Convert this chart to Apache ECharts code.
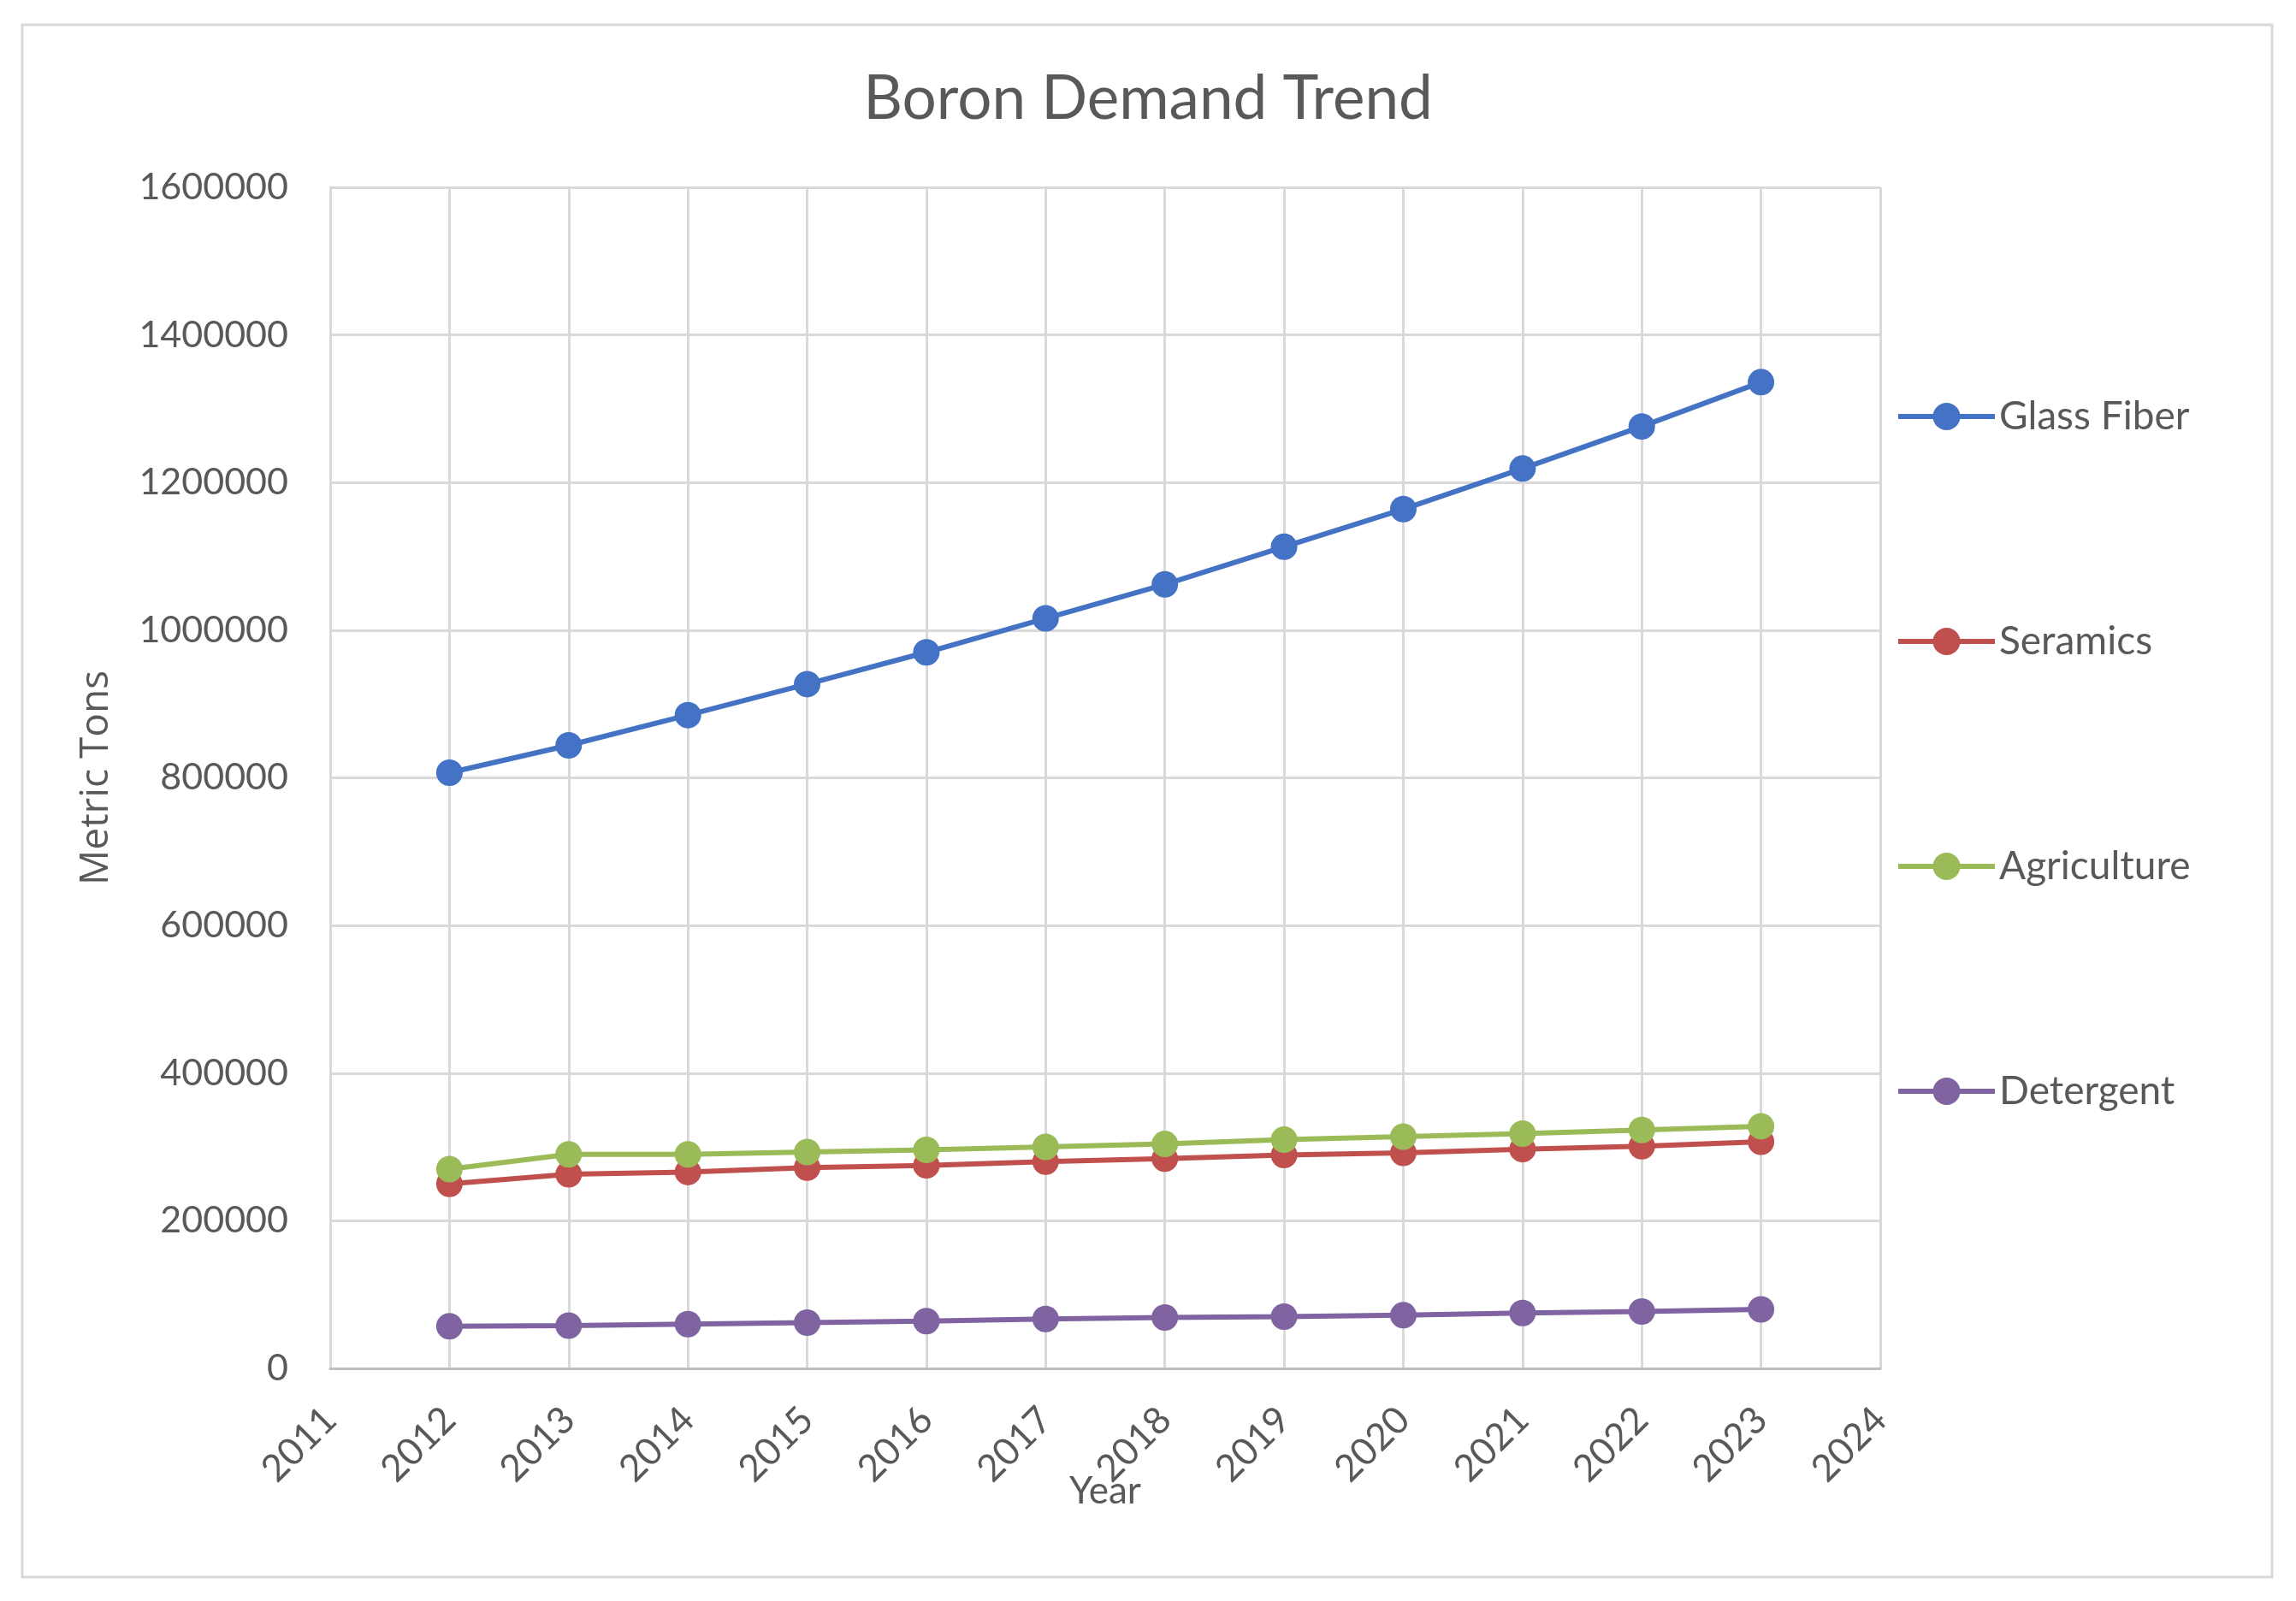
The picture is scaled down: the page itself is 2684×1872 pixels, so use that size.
<!DOCTYPE html>
<html>
<head>
<meta charset="utf-8">
<script src="https://cdn.jsdelivr.net/npm/echarts@6/dist/echarts.min.js"></script>
<style>
html,body{margin:0;padding:0;background:#fff;}
#chart{width:2684px;height:1872px;}
</style>
</head>
<body>
<div id="chart"></div>
<script>
const years = [2012, 2013, 2014, 2015, 2016, 2017, 2018, 2019, 2020, 2021, 2022, 2023];
const glassFiber = [807000, 844000, 885000, 927000, 970000, 1016000, 1062000, 1113000, 1164000, 1219000, 1276000, 1336000];
const seramics = [250000, 263000, 266000, 272000, 275000, 280000, 284000, 289000, 292000, 297000, 301000, 307000];
const agriculture = [270000, 290000, 290000, 293000, 296000, 300000, 304000, 310000, 314000, 318000, 323000, 328000];
const detergent = [57000, 58000, 60000, 62000, 64000, 67000, 69000, 70000, 72000, 75000, 77000, 80000];
const seriesNames = ['Glass Fiber', 'Seramics', 'Agriculture', 'Detergent'];
const xMin = 2011, xMax = 2024, xStep = 1;
const yMin = 0, yMax = 1600000, yStep = 200000;

const colors = ['#4472C4', '#C0504D', '#9BBB59', '#8064A2'];
const values = [glassFiber, seramics, agriculture, detergent];
const txt = '#595959';
const font = 'Lato';

const chart = echarts.init(document.getElementById('chart'));
chart.setOption({
  backgroundColor: '#ffffff',
  animation: false,
  title: {
    text: 'Boron Demand Trend',
    left: 'center',
    top: 76,
    textStyle: { fontFamily: font, fontSize: 71, fontWeight: 'normal', color: txt }
  },
  graphic: [{
    type: 'rect',
    shape: { x: 26, y: 29, width: 2630, height: 1815 },
    style: { fill: 'none', stroke: '#d9d9d9', lineWidth: 3 },
    silent: true
  }],
  grid: { left: 386, right: 486, top: 219, bottom: 272 },
  legend: {
    orient: 'vertical',
    left: 2216,
    top: 464,
    itemWidth: 113,
    itemHeight: 40,
    itemGap: 217,
    padding: 0,
    data: seriesNames,
    lineStyle: { width: 6 },
    textStyle: { fontFamily: font, fontSize: 46, color: txt, lineHeight: 40 }
  },
  xAxis: {
    type: 'value',
    min: xMin, max: xMax, interval: xStep,
    name: 'Year',
    nameLocation: 'middle',
    nameGap: 122,
    nameMoveOverlap: false,
    nameTextStyle: { fontFamily: font, fontSize: 44, color: txt },
    axisLine: { show: true, lineStyle: { color: '#bfbfbf', width: 3 } },
    axisTick: { show: false },
    splitLine: { show: true, lineStyle: { color: '#d9d9d9', width: 3 } },
    axisLabel: {
      rotate: 45, margin: 53,
      fontFamily: font, fontSize: 44, color: txt,
      formatter: v => String(v)
    }
  },
  yAxis: {
    type: 'value',
    min: yMin, max: yMax, interval: yStep,
    name: 'Metric Tons',
    nameLocation: 'middle',
    nameRotate: 90,
    nameGap: 250,
    nameMoveOverlap: false,
    nameTextStyle: { fontFamily: 'Open Sans', fontSize: 46, color: txt },
    axisLine: { show: true, lineStyle: { color: '#d9d9d9', width: 3 } },
    axisTick: { show: false },
    splitLine: { show: true, lineStyle: { color: '#d9d9d9', width: 3 } },
    axisLabel: {
      margin: 49,
      fontFamily: font, fontSize: 43, color: txt,
      formatter: v => String(v)
    }
  },
  series: seriesNames.map((name, k) => ({
    name: name,
    type: 'line',
    symbol: 'circle',
    symbolSize: 31,
    data: years.map((y, i) => [y, values[k][i]]),
    itemStyle: { color: colors[k] },
    lineStyle: { color: colors[k], width: 6 }
  }))
});
</script>
</body>
</html>
